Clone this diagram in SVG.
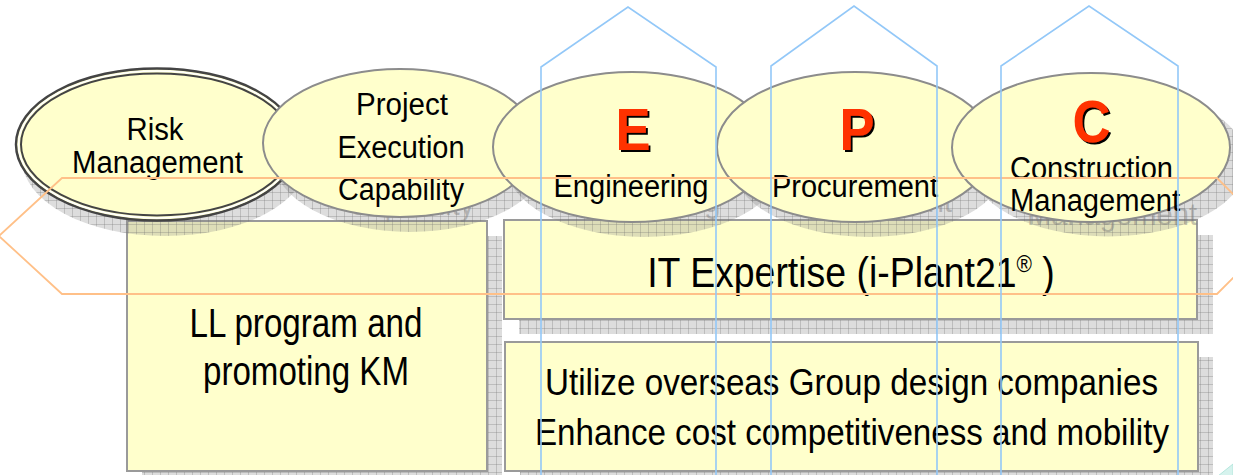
<svg xmlns="http://www.w3.org/2000/svg" width="1233" height="475" viewBox="0 0 1233 475">
<style>
.t{font-family:"Liberation Sans",Arial,sans-serif;fill:#000;text-anchor:middle}
.g{font-family:"Liberation Sans",Arial,sans-serif;fill:#7a7a7a;fill-opacity:.45;text-anchor:middle}
.box{fill:#FFFFCC;stroke:#9a9a9a;stroke-width:2}
.ell{fill:#FFFFCC;stroke:#8c8c8c;stroke-width:2}
.sh{fill:url(#grid)}
.big{font-family:"Liberation Sans",Arial,sans-serif;font-weight:bold;fill:#FF3300;text-anchor:middle;filter:url(#ds)}
.blue{fill:none;stroke:#93C8F8;stroke-width:1.6}
.orange{fill:none;stroke:#FFC088;stroke-width:1.8}
</style>
<defs>
<pattern id="grid" patternUnits="userSpaceOnUse" width="8" height="8">
<rect width="8" height="8" fill="#808080" fill-opacity="0.27"/>
<path d="M0 0.5H8M0.5 0V8" stroke="#6a6a6a" stroke-opacity="0.28" stroke-width="1"/>
</pattern>
<filter id="ds" x="-20%" y="-20%" width="150%" height="150%">
<feDropShadow dx="2" dy="2" stdDeviation="0" flood-color="#000" flood-opacity="1"/>
</filter>
</defs>
<rect width="1233" height="475" fill="#fff"/>

<g id="box-shadows">
<rect class="sh" x="142" y="236" width="360" height="250"/>
<rect class="sh" x="519" y="235" width="694" height="99"/>
<rect class="sh" x="520" y="357" width="693" height="129"/>
</g>

<g id="node-ll">
<rect class="box" x="127" y="221" width="360" height="250"/>
<text class="t" x="306" y="337" font-size="40" textLength="233" lengthAdjust="spacingAndGlyphs">LL program and</text>
<text class="t" x="306" y="385" font-size="40" textLength="206" lengthAdjust="spacingAndGlyphs">promoting KM</text>
</g>

<g id="node-it">
<rect class="box" x="504" y="220" width="693" height="99"/>
<text class="t" transform="translate(851 287) scale(0.87 1)" x="0" y="0" font-size="43">IT Expertise (i-Plant21<tspan font-size="24" dy="-15">®</tspan><tspan dy="15"> )</tspan></text>
</g>

<g id="node-utilize">
<rect class="box" x="505" y="342" width="693" height="129"/>
<text class="t" x="851.5" y="395" font-size="37" textLength="613" lengthAdjust="spacingAndGlyphs">Utilize overseas Group design companies</text>
<text class="t" x="852" y="445" font-size="37" textLength="634" lengthAdjust="spacingAndGlyphs">Enhance cost competitiveness and mobility</text>
</g>

<g id="ellipse-shadows">
<ellipse class="sh" cx="165" cy="159" rx="143" ry="77"/>
<ellipse class="sh" cx="410" cy="158" rx="137" ry="74"/>
<ellipse class="sh" cx="644" cy="162" rx="139" ry="75"/>
<ellipse class="sh" cx="869" cy="162" rx="138" ry="75"/>
<ellipse class="sh" cx="1108" cy="162" rx="139" ry="74.5"/>
<text class="g" x="411" y="215" font-size="31" textLength="126" lengthAdjust="spacingAndGlyphs">Capability</text>
<text class="g" x="643" y="212" font-size="31" textLength="155" lengthAdjust="spacingAndGlyphs">Engineering</text>
<text class="g" x="869" y="212" font-size="31" textLength="166" lengthAdjust="spacingAndGlyphs">Procurement</text>
<text class="g" x="1112" y="225" font-size="31" textLength="170" lengthAdjust="spacingAndGlyphs">Management</text>
</g>

<g id="node-risk">
<ellipse cx="157" cy="144.5" rx="141" ry="76" fill="#FFFFCC" stroke="#444" stroke-width="2.5"/>
<ellipse cx="157" cy="144.5" rx="138.5" ry="73.5" fill="none" stroke="#fff" stroke-width="1.5"/>
<ellipse cx="157" cy="144.5" rx="136" ry="71" fill="none" stroke="#444" stroke-width="2"/>
<text class="t" x="155" y="140" font-size="31" textLength="57" lengthAdjust="spacingAndGlyphs">Risk</text>
<text class="t" x="157.5" y="173" font-size="31" textLength="171" lengthAdjust="spacingAndGlyphs">Management</text>
</g>

<g id="node-pec">
<ellipse class="ell" cx="400" cy="143" rx="137" ry="74"/>
<text class="t" x="402" y="115" font-size="31" textLength="92" lengthAdjust="spacingAndGlyphs">Project</text>
<text class="t" x="401" y="158" font-size="31" textLength="127" lengthAdjust="spacingAndGlyphs">Execution</text>
<text class="t" x="401" y="200" font-size="31" textLength="126" lengthAdjust="spacingAndGlyphs">Capability</text>
</g>

<g id="node-e">
<ellipse class="ell" cx="632" cy="147" rx="139" ry="75"/>
<text class="big" x="633" y="150" font-size="60" textLength="35" lengthAdjust="spacingAndGlyphs">E</text>
<text class="t" x="631" y="197" font-size="31" textLength="155" lengthAdjust="spacingAndGlyphs">Engineering</text>
</g>

<g id="node-p">
<ellipse class="ell" cx="855" cy="147" rx="138" ry="75"/>
<text class="big" x="857" y="150" font-size="60" textLength="35" lengthAdjust="spacingAndGlyphs">P</text>
<text class="t" x="855" y="197" font-size="31" textLength="166" lengthAdjust="spacingAndGlyphs">Procurement</text>
</g>

<g id="node-c">
<ellipse class="ell" cx="1091" cy="147.5" rx="139" ry="74.5"/>
<text class="big" x="1091.5" y="142" font-size="60" textLength="38" lengthAdjust="spacingAndGlyphs">C</text>
<text class="t" x="1091.5" y="179" font-size="31" textLength="163" lengthAdjust="spacingAndGlyphs">Construction</text>
<text class="t" x="1095" y="211" font-size="31" textLength="170" lengthAdjust="spacingAndGlyphs">Management</text>
</g>

<g id="connectors">
<polygon class="orange" points="-1,236 62,178 1217,178 1275,236 1217,294 62,294"/>
<polyline class="blue" points="541,476 541,67 628,7 716,67 716,476"/>
<polyline class="blue" points="771,476 771,66 854,6 937,66 937,476"/>
<polyline class="blue" points="1001,476 1001,66 1089,6 1178,66 1178,476"/>
</g>

<polygon points="1218,476 1233,464 1233,476" fill="#d6f3ee" stroke="#b5e6dd" stroke-width="1"/>
</svg>
